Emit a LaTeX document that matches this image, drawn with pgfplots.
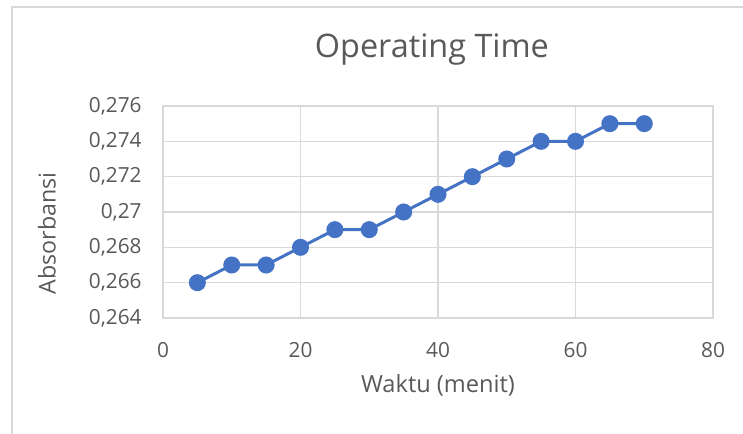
\documentclass[border=0pt]{standalone}
\usepackage{fontspec}
\setmainfont{Open Sans}
\usepackage{pgfplots}
\pgfplotsset{compat=1.18}
\definecolor{txt}{HTML}{595959}
\definecolor{grd}{HTML}{D9D9D9}
\definecolor{ser}{HTML}{4472C4}
\begin{document}
\begin{tikzpicture}
\path[use as bounding box] (0pt,0pt) rectangle (371.5pt,216.5pt);
\begin{pgfinterruptboundingbox}
\draw[grd, line width=0.9pt] (6pt,-5pt) -- (6pt,213pt) -- (380pt,213pt);
\begin{axis}[
  at={(81.5pt,57.5pt)}, anchor=south west,
  scale only axis, width=275pt, height=106pt,
  xmin=0, xmax=80, ymin=0.264, ymax=0.276,
  xtick={0,20,40,60,80},
  ytick={0.264,0.266,0.268,0.270,0.272,0.274,0.276},
  grid=major,
  grid style={grd, line width=0.75pt},
  axis line style={grd, line width=0.75pt},
  major tick length=0pt,
  tick label style={font=\fontsize{10.4}{12}\selectfont, text=txt},
  /pgf/number format/.cd, use comma, fixed, precision=3, assume math mode=true,
  /pgfplots/.cd,
  yticklabel style={anchor=east, inner sep=0pt, xshift=-10.5pt},
  xticklabel style={anchor=north, inner sep=0pt, yshift=-12pt},
  title={Operating Time},
  title style={at={(0.489,1.212)}, anchor=center, yshift=0pt, font=\fontsize{16.2}{19}\selectfont, text=txt},
  xlabel={Waktu (menit)},
  xlabel style={at={(0.5,-0.316)}, anchor=center, font=\fontsize{11.8}{14}\selectfont, text=txt},
  ylabel={Absorbansi},
  ylabel style={at={(-0.211,0.40)}, anchor=center, font=\fontsize{11.6}{14}\selectfont, text=txt},
]
\addplot[ser, line width=1.5pt, mark=*, mark size=3.5pt, mark options={fill=ser, draw=ser}]
coordinates {
(5,0.266) (10,0.267) (15,0.267) (20,0.268) (25,0.269) (30,0.269) (35,0.270)
(40,0.271) (45,0.272) (50,0.273) (55,0.274) (60,0.274) (65,0.275) (70,0.275)
};
\end{axis}
\end{pgfinterruptboundingbox}
\end{tikzpicture}
\end{document}
